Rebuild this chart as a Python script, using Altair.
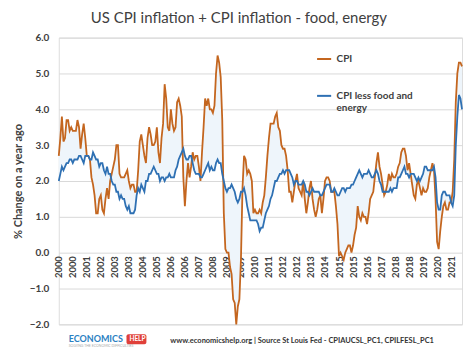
import altair as alt
import pandas as pd

# Year-on-year % change, monthly, Jan 2000 .. Aug 2021
years = list(range(2000, 2022))
cpi = [
    2.7, 3.2, 3.8, 3.1, 3.2, 3.7, 3.7, 3.4, 3.5, 3.4, 3.4, 3.4,   # 2000
    3.7, 3.5, 2.9, 3.3, 3.6, 3.2, 2.7, 2.7, 2.6, 2.1, 1.9, 1.6,   # 2001
    1.1, 1.1, 1.5, 1.6, 1.2, 1.1, 1.5, 1.8, 1.5, 2.0, 2.2, 2.4,   # 2002
    2.6, 3.0, 3.0, 2.2, 2.1, 2.1, 2.1, 2.2, 2.3, 2.0, 1.8, 1.9,   # 2003
    1.9, 1.7, 1.7, 2.3, 3.1, 3.3, 3.0, 2.7, 2.5, 3.2, 3.5, 3.3,   # 2004
    3.0, 3.0, 3.1, 3.5, 2.8, 2.5, 3.2, 3.6, 4.7, 4.3, 3.5, 3.4,   # 2005
    4.0, 3.6, 3.4, 3.5, 4.2, 4.3, 4.1, 3.8, 2.1, 1.3, 2.0, 2.5,   # 2006
    2.1, 2.4, 2.8, 2.6, 2.7, 2.7, 2.4, 2.0, 2.8, 3.5, 4.3, 4.1,   # 2007
    4.3, 4.0, 4.0, 3.9, 4.1, 5.0, 5.5, 5.3, 4.9, 3.7, 1.1, 0.1,   # 2008
    0.0, 0.0, -0.4, -0.6, -1.3, -1.4, -2.0, -1.5, -1.3, -0.2, 1.8, 2.7,  # 2009
    2.6, 2.2, 2.3, 2.2, 2.0, 1.1, 1.2, 1.1, 1.1, 1.2, 1.1, 1.4,   # 2010
    1.6, 2.1, 2.7, 3.2, 3.6, 3.6, 3.6, 3.8, 3.9, 3.5, 3.4, 3.0,   # 2011
    2.9, 2.9, 2.7, 2.3, 1.7, 1.7, 1.4, 1.7, 2.0, 2.2, 1.8, 1.7,   # 2012
    1.6, 2.0, 1.5, 1.1, 1.4, 1.8, 2.0, 1.5, 1.2, 1.0, 1.2, 1.5,   # 2013
    1.6, 1.1, 1.5, 2.0, 2.1, 2.1, 2.0, 1.7, 1.7, 1.7, 1.3, 0.8,   # 2014
    -0.1, 0.0, -0.1, -0.2, 0.0, 0.1, 0.2, 0.2, 0.0, 0.2, 0.5, 0.7,  # 2015
    1.3, 1.0, 0.9, 1.1, 1.0, 1.0, 0.8, 1.1, 1.5, 1.6, 1.7, 2.1,   # 2016
    2.5, 2.8, 2.4, 2.2, 1.9, 1.6, 1.7, 1.9, 2.2, 2.0, 2.2, 2.1,   # 2017
    2.1, 2.2, 2.4, 2.5, 2.8, 2.9, 2.9, 2.7, 2.3, 2.5, 2.2, 1.9,   # 2018
    1.6, 1.5, 1.9, 2.0, 1.8, 1.6, 1.8, 1.7, 1.7, 1.8, 2.1, 2.3,   # 2019
    2.5, 2.3, 1.5, 0.3, 0.1, 0.6, 1.0, 1.3, 1.4, 1.2, 1.2, 1.4,   # 2020
    1.4, 1.7, 2.6, 4.2, 5.0, 5.3, 5.3, 5.2,                       # 2021
]
core = [
    2.0, 2.2, 2.4, 2.3, 2.4, 2.5, 2.5, 2.6, 2.6, 2.5, 2.6, 2.6,   # 2000
    2.6, 2.7, 2.7, 2.6, 2.5, 2.7, 2.7, 2.7, 2.6, 2.6, 2.8, 2.7,   # 2001
    2.6, 2.6, 2.4, 2.5, 2.5, 2.3, 2.2, 2.4, 2.2, 2.2, 2.0, 1.9,   # 2002
    1.9, 1.7, 1.7, 1.5, 1.6, 1.5, 1.5, 1.3, 1.2, 1.3, 1.1, 1.1,   # 2003
    1.1, 1.2, 1.6, 1.8, 1.7, 1.9, 1.8, 1.7, 2.0, 2.0, 2.2, 2.2,   # 2004
    2.3, 2.4, 2.3, 2.2, 2.2, 2.0, 2.1, 2.1, 2.0, 2.1, 2.1, 2.2,   # 2005
    2.1, 2.1, 2.1, 2.3, 2.4, 2.6, 2.7, 2.8, 2.9, 2.7, 2.6, 2.6,   # 2006
    2.7, 2.7, 2.5, 2.3, 2.2, 2.2, 2.2, 2.1, 2.1, 2.2, 2.3, 2.4,   # 2007
    2.5, 2.3, 2.4, 2.3, 2.3, 2.5, 2.6, 2.5, 2.5, 2.2, 2.0, 1.8,   # 2008
    1.7, 1.8, 1.8, 1.9, 1.8, 1.7, 1.5, 1.4, 1.5, 1.7, 1.7, 1.8,   # 2009
    1.6, 1.3, 1.1, 0.9, 0.9, 0.9, 0.9, 0.9, 0.8, 0.6, 0.7, 0.7,   # 2010
    0.9, 1.1, 1.2, 1.3, 1.5, 1.6, 1.8, 2.0, 2.0, 2.1, 2.2, 2.2,   # 2011
    2.3, 2.2, 2.3, 2.3, 2.3, 2.2, 2.1, 1.9, 2.0, 2.0, 1.9, 1.9,   # 2012
    1.9, 2.0, 1.9, 1.7, 1.7, 1.6, 1.7, 1.8, 1.7, 1.7, 1.7, 1.7,   # 2013
    1.6, 1.6, 1.7, 1.8, 1.9, 1.9, 1.9, 1.7, 1.7, 1.8, 1.7, 1.6,   # 2014
    1.6, 1.7, 1.8, 1.8, 1.7, 1.8, 1.8, 1.8, 1.9, 1.9, 2.0, 2.1,   # 2015
    2.2, 2.3, 2.2, 2.1, 2.2, 2.2, 2.2, 2.3, 2.2, 2.1, 2.1, 2.2,   # 2016
    2.3, 2.2, 2.0, 1.9, 1.7, 1.7, 1.7, 1.7, 1.7, 1.8, 1.7, 1.8,   # 2017
    1.8, 1.8, 2.1, 2.1, 2.2, 2.3, 2.4, 2.2, 2.2, 2.1, 2.2, 2.2,   # 2018
    2.2, 2.1, 2.0, 2.1, 2.0, 2.1, 2.2, 2.4, 2.4, 2.3, 2.3, 2.3,   # 2019
    2.3, 2.4, 2.1, 1.4, 1.2, 1.2, 1.6, 1.7, 1.7, 1.6, 1.6, 1.6,   # 2020
    1.4, 1.3, 1.6, 3.0, 3.8, 4.4, 4.3, 4.0,                       # 2021
]
series_names = ["CPI", "CPI less food and energy"]
series_colors = ["#c4661f", "#2e70b3"]
tick_months = list(range(0, 253, 9))
y_ticks = [-2, -1, 0, 1, 2, 3, 4, 5, 6]
title_text = "US CPI inflation + CPI inflation - food, energy"
y_title = "% Change on a year ago"
footer_text = "www.economicshelp.org | Source St Louis Fed - CPIAUCSL_PC1, CPILFESL_PC1"

n = len(cpi)
month_idx = list(range(n))

wide = pd.DataFrame({"m": month_idx, "cpi": cpi, "core": core})
long = pd.concat([
    pd.DataFrame({"m": month_idx, "v": cpi, "s": series_names[0]}),
    pd.DataFrame({"m": month_idx, "v": core, "s": series_names[1]}),
])

FONT = "Lato"
W, H = 405, 288

xscale = alt.Scale(domain=[0, n - 1], nice=False, zero=False)
yscale = alt.Scale(domain=[-2, 6], nice=False)


def x_axis():
    return alt.Axis(values=tick_months, labelExpr="floor(datum.value/12)+2000",
                    labelAngle=-90, offset=-72, domain=False, ticks=False,
                    grid=False, labelPadding=3, labelFont=FONT, labelFontSize=9.5,
                    labelFontWeight="bold", labelColor="#404040", labelOverlap=False,
                    title=None)


def y_axis():
    return alt.Axis(values=y_ticks, format=".1f", tickCount=9,
                    domain=False, ticks=False, grid=True, gridColor="#d9d9d9",
                    labelPadding=10, labelFont=FONT, labelFontSize=10,
                    labelFontWeight="bold", labelColor="#404040", labelOverlap=False,
                    title=y_title, titleFont=FONT, titleFontSize=11,
                    titleFontWeight="bold", titleColor="#404040", titlePadding=6)


area = alt.Chart(wide).mark_area(color="#eef5fb", opacity=1).encode(
    x=alt.X("m:Q", scale=xscale, axis=x_axis()),
    y=alt.Y("cpi:Q", scale=yscale, axis=y_axis()),
    y2="core:Q",
)

lines = alt.Chart(long).mark_line(strokeWidth=1.8).encode(
    x=alt.X("m:Q", scale=xscale, axis=x_axis()),
    y=alt.Y("v:Q", scale=yscale, axis=y_axis()),
    color=alt.Color("s:N", scale=alt.Scale(domain=series_names, range=series_colors),
                    legend=alt.Legend(orient="none", legendX=258, legendY=13, title=None,
                                      symbolType="stroke", symbolStrokeWidth=2,
                                      symbolSize=200, rowPadding=23,
                                      labelFont=FONT, labelFontSize=10,
                                      labelFontWeight="bold", labelColor="#404040",
                                      labelExpr="datum.label == 'CPI' ? 'CPI' : ['CPI less food and', 'energy']")),
    detail="s:N",
)

one = pd.DataFrame({"k": [0]})
logo_text = alt.Chart(one).mark_text(text="ECONOMICS", font=FONT, fontSize=9,
                                     fontWeight="bold", color="#2a7fc2", align="left",
                                     baseline="middle").encode(
    x=alt.value(10), y=alt.value(303))
logo_tag = alt.Chart(one).mark_rect(color="#e0403a", cornerRadius=2).encode(
    x=alt.value(68), x2=alt.value(88), y=alt.value(298), y2=alt.value(308))
logo_help = alt.Chart(one).mark_text(text="HELP", font=FONT, fontSize=6.5,
                                     fontWeight="bold", color="white", align="center",
                                     baseline="middle").encode(
    x=alt.value(79), y=alt.value(303))
logo_sub = alt.Chart(one).mark_text(text="SOLVING THE ECONOMIC DIFFICULTIES", font=FONT,
                                    fontSize=3.5, color="#aaaaaa", align="left",
                                    baseline="middle").encode(
    x=alt.value(10), y=alt.value(310))
footer = alt.Chart(one).mark_text(text=footer_text, font=FONT, fontSize=7.5,
                                  fontWeight="bold", color="#333333", align="left",
                                  baseline="middle").encode(
    x=alt.value(112), y=alt.value(305))

chart = alt.layer(area, lines, logo_text, logo_tag, logo_help, logo_sub, footer).properties(
    width=W, height=H,
    padding={"left": 4, "top": 2, "right": 0, "bottom": 0},
    title=alt.TitleParams(text=title_text, font=FONT, fontSize=15, fontWeight="normal",
                          color="#404040", anchor="middle", frame="bounds", offset=7),
).configure_view(stroke=None).configure(background="white")

chart.save("out.html", embed_options={"renderer": "svg", "actions": False})
